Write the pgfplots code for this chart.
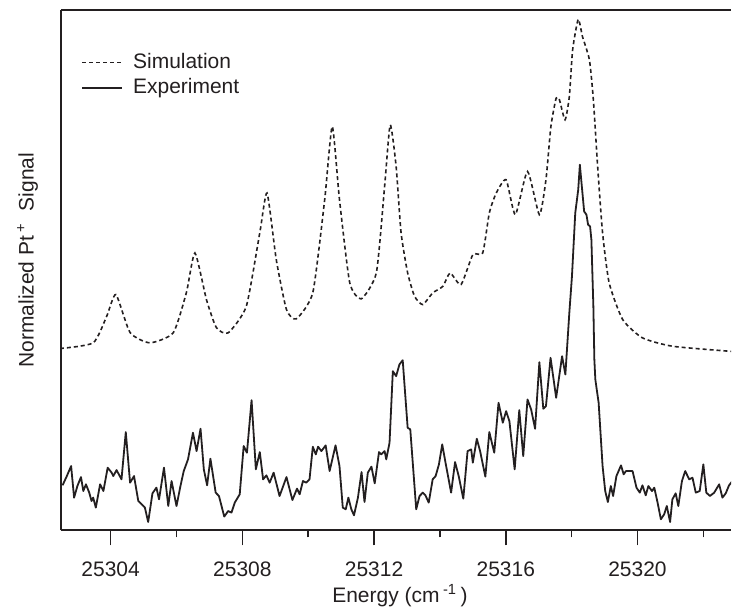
\documentclass[border=0pt]{standalone}
\usepackage{fontspec}
\setmainfont{Liberation Sans}
\usepackage{pgfplots}
\pgfplotsset{compat=1.18}

\definecolor{ink}{HTML}{231F20}

% simulated spectrum (dashed)
\pgfplotstableread{
E y
25302.46 182
25303.47 187.7
25303.88 214.3
25304.16 236
25304.59 198
25305.19 187.7
25305.90 197.7
25306.30 238
25306.56 277.7
25306.91 231
25307.21 203
25307.57 197.7
25308.12 224.3
25308.53 298
25308.75 337.7
25309.03 271
25309.34 221
25309.64 211.7
25310.14 238
25310.50 331
25310.73 404.3
25310.95 331
25311.26 248
25311.61 231.7
25312.07 258
25312.32 344.3
25312.49 406
25312.67 364.3
25312.82 298
25313.02 257.7
25313.23 234.3
25313.48 226
25313.78 237.7
25314.09 244.3
25314.31 257.7
25314.64 246
25315.00 276
25315.30 277.7
25315.50 317.7
25315.71 337.7
25316.01 351
25316.29 316
25316.66 359.3
25317.02 316
25317.22 351
25317.37 404.3
25317.53 432.7
25317.63 431
25317.80 411
25317.93 434.3
25318.03 481
25318.20 511.7
25318.33 494.3
25318.54 471
25318.66 431
25318.79 364.3
25318.94 297.7
25319.14 247.7
25319.55 211
25320.15 192.7
25321.06 184.3
25322.78 179.3
25322.90 179
}\simtable

% measured spectrum (solid)
\pgfplotstableread{
E y
25302.54 45
25302.67 54.3
25302.80 64.3
25302.89 32.7
25302.99 44.3
25303.10 53.3
25303.17 39.3
25303.25 46
25303.35 37.7
25303.42 29.3
25303.47 32.7
25303.55 22.7
25303.68 46
25303.78 39.3
25303.91 62.7
25304.03 57.7
25304.08 54.3
25304.18 60.3
25304.33 51
25304.46 98.3
25304.59 47.7
25304.71 54.3
25304.84 29.3
25304.94 26
25305.04 22.7
25305.14 8.3
25305.27 37
25305.39 42.7
25305.47 31
25305.62 62.7
25305.75 24.3
25305.85 49.3
25306.00 24.3
25306.12 44.3
25306.22 59.3
25306.35 71
25306.50 97.7
25306.61 79.3
25306.73 101.7
25306.83 61
25306.93 45
25307.03 71.7
25307.19 37.7
25307.29 34.3
25307.45 13.7
25307.57 19.3
25307.67 17.7
25307.77 27.7
25307.92 36
25308.04 84.3
25308.14 77.7
25308.28 130.3
25308.41 61
25308.53 78.3
25308.63 51
25308.73 55
25308.83 47.7
25308.95 57.7
25309.13 34.3
25309.34 53.3
25309.52 30.3
25309.66 41.7
25309.74 36
25309.84 49.3
25309.94 47.7
25310.04 51
25310.14 83.7
25310.23 76
25310.30 83.7
25310.40 79.3
25310.53 85
25310.65 59.3
25310.83 85
25310.95 64.3
25311.05 22.7
25311.14 21
25311.22 32.7
25311.31 21
25311.39 15
25311.51 32.7
25311.62 58.3
25311.71 28.3
25311.81 57.7
25311.92 63.7
25312.02 47
25312.15 78.3
25312.22 76
25312.32 79.3
25312.37 71
25312.47 87.7
25312.57 159.3
25312.67 154.3
25312.77 166
25312.87 170.3
25313.02 102.7
25313.10 101
25313.28 21
25313.38 34.3
25313.48 37.7
25313.56 35
25313.66 27.7
25313.78 51
25313.87 54.3
25313.97 66
25314.07 86
25314.17 67.7
25314.34 37.7
25314.46 68.3
25314.57 54.3
25314.71 31.7
25314.84 79.3
25314.95 81
25315.00 67.7
25315.12 91.7
25315.22 79.3
25315.38 53.7
25315.50 98.3
25315.65 77.7
25315.78 127.7
25315.91 107.7
25316.01 119.3
25316.11 109.3
25316.27 61
25316.41 120.3
25316.53 74.3
25316.66 131
25316.77 121
25316.89 101.7
25317.02 168.3
25317.14 121.7
25317.22 124.3
25317.36 172.7
25317.53 132.7
25317.71 174.3
25317.81 156
25317.93 217.7
25318.01 254.3
25318.11 317.7
25318.20 341
25318.25 366
25318.31 344.3
25318.38 319.3
25318.45 316
25318.50 306
25318.56 304.3
25318.60 291
25318.66 224.3
25318.69 171
25318.72 151
25318.82 127.7
25318.94 64.3
25319.02 39.3
25319.10 28.3
25319.19 44.3
25319.26 34.3
25319.36 54.3
25319.50 65
25319.58 56
25319.65 59.3
25319.85 59.3
25319.97 42.7
25320.07 37.7
25320.15 45
25320.25 35
25320.33 44.3
25320.44 39.3
25320.51 42.7
25320.61 27.7
25320.71 11
25320.81 16
25320.89 24.3
25320.99 8.3
25321.06 31
25321.16 37
25321.24 24.3
25321.35 49.3
25321.45 59.3
25321.57 51
25321.67 52.7
25321.77 37.7
25321.89 39.3
25322.00 66
25322.09 37.7
25322.20 34.3
25322.33 37.7
25322.48 46
25322.58 32.7
25322.68 37
25322.78 45
25322.90 50
}\exptable

\begin{document}
\begin{tikzpicture}
\begin{axis}[
  scale only axis,
  width=335.5pt, height=260.5pt,
  xmin=25302.49, xmax=25322.84,
  ymin=0, ymax=521,
  axis x line*=box, axis y line*=left,
  axis line style={ink, line width=1pt},
  xtick={25304,25308,25312,25316,25320},
  minor xtick={25306,25310,25314,25318,25322},
  scaled x ticks=false,
  xtick pos=bottom,
  xtick align=outside,
  major tick length=7.5pt, minor tick length=3.5pt,
  every tick/.style={ink, line width=0.8pt},
  ytick=\empty,
  /pgf/number format/assume math mode=true,
  xticklabel={\pgfmathprintnumber[fixed,1000 sep={}]{\tick}},
  ticklabel style={font=\fontsize{10.5}{12}\selectfont, text=ink},
  xticklabel style={yshift=-5pt},
  label style={font=\fontsize{10.5}{12}\selectfont, text=ink},
  xlabel={Energy (cm\,\textsuperscript{-1}\,)},
  ylabel={Normalized Pt\,\textsuperscript{+}\ \ Signal},
  xlabel style={yshift=3pt, xshift=2pt},
  ylabel style={yshift=8pt, xshift=5pt},
  legend cell align=left,
  legend style={draw=none, fill=none, at={(0.03,0.925)}, anchor=north west,
    inner sep=0pt, font=\fontsize{10.5}{12}\selectfont, text=ink,
    row sep=-0.5pt, column sep=3pt},
  legend image code/.code={\draw[#1] (0pt,0pt) -- (20pt,0pt);},
  clip=true,
]
\addplot[ink, line width=0.8pt, dash pattern=on 2pt off 1.5pt, smooth, tension=0.35] table[x=E, y=y] {\simtable};
\addlegendentry{Simulation}
\addplot[ink, line width=0.9pt, line join=round] table[x=E, y=y] {\exptable};
\addlegendentry{Experiment}
\end{axis}
\path (current axis.south west) ++(-30.5pt,-39pt) rectangle ++(366pt,304.5pt);
\end{tikzpicture}
\end{document}
